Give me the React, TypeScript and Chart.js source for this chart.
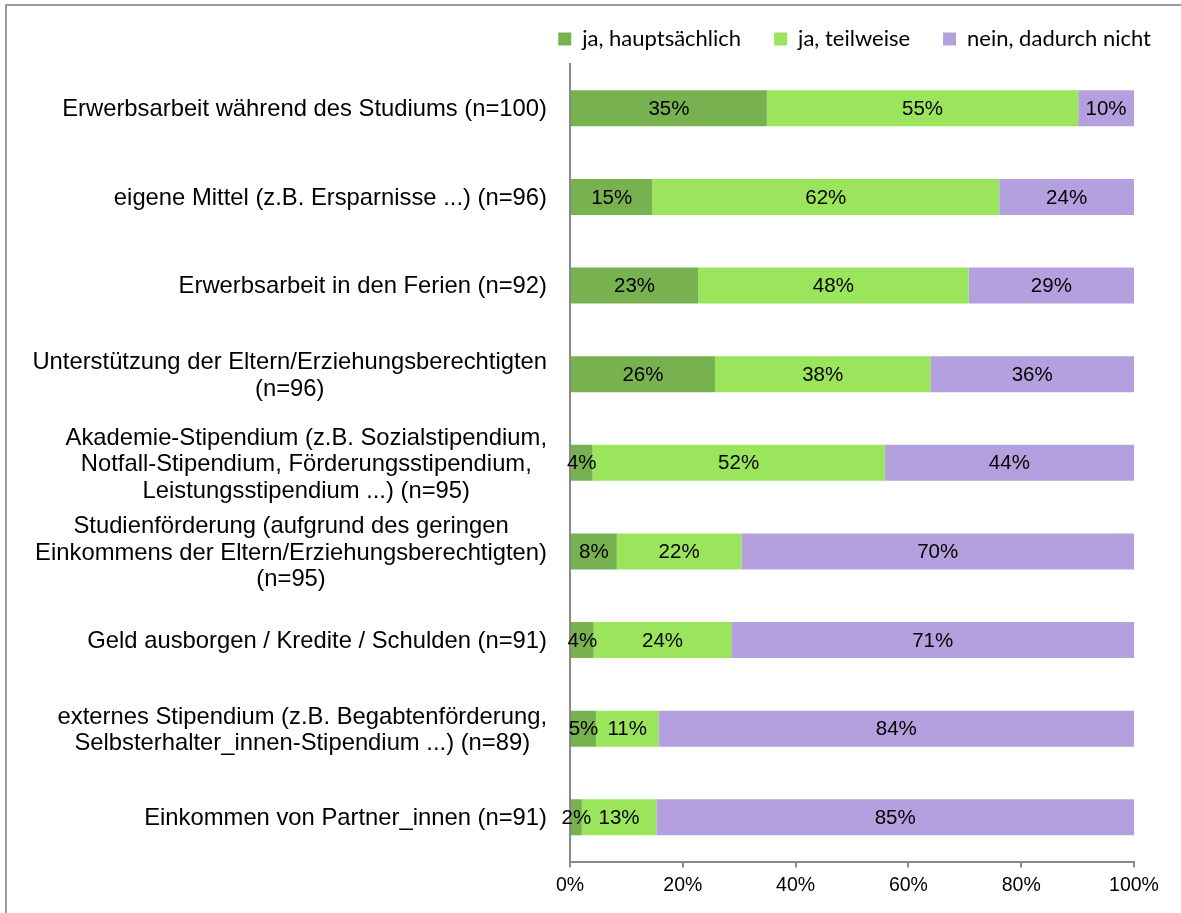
import React, { useEffect, useRef } from "react";
import { Chart, registerables } from "chart.js";

Chart.register(...registerables);

const categories: string[][] = [
  ["Erwerbsarbeit während des Studiums (n=100)"],
  ["eigene Mittel (z.B. Ersparnisse ...) (n=96)"],
  ["Erwerbsarbeit in den Ferien (n=92)"],
  ["Unterstützung der Eltern/Erziehungsberechtigten", "(n=96)"],
  ["Akademie-Stipendium (z.B. Sozialstipendium,", "Notfall-Stipendium, Förderungsstipendium,", "Leistungsstipendium ...) (n=95)"],
  ["Studienförderung (aufgrund des geringen", "Einkommens der Eltern/Erziehungsberechtigten)", "(n=95)"],
  ["Geld ausborgen / Kredite / Schulden (n=91)"],
  ["externes Stipendium (z.B. Begabtenförderung,", "Selbsterhalter_innen-Stipendium ...) (n=89)"],
  ["Einkommen von Partner_innen (n=91)"],
];

const seriesNames = ["ja, hauptsächlich", "ja, teilweise", "nein, dadurch nicht"];
const hauptsaechlich = [34.9, 14.6, 22.7, 25.7, 4.0, 8.3, 4.2, 4.6, 2.1];
const teilweise = [55.2, 61.5, 48.0, 38.2, 51.8, 22.1, 24.4, 11.1, 13.2];
const nicht = [9.9, 23.9, 29.3, 36.1, 44.2, 69.6, 71.4, 84.3, 84.7];
const seriesColors = ["#78B250", "#9BE55D", "#B4A0DE"];
const xTicks = [0, 20, 40, 60, 80, 100];

const ARIAL = "'Liberation Sans', Arial, sans-serif";
const LEGEND_PAD = 33;
const CANVAS_W = 1184;

const dataLabelPlugin = {
  id: "dataLabels",
  afterDatasetsDraw(chart: any) {
    const ctx = chart.ctx;
    ctx.save();
    ctx.font = `20.5px ${ARIAL}`;
    ctx.fillStyle = "#000";
    ctx.textAlign = "center";
    ctx.textBaseline = "middle";
    chart.data.datasets.forEach((ds: any, di: number) => {
      const meta = chart.getDatasetMeta(di);
      meta.data.forEach((bar: any, i: number) => {
        const v = ds.data[i];
        const { x, y, base } = bar.getProps(["x", "y", "base"], true);
        ctx.fillText(`${Math.round(v)}%`, (x + base) / 2, y + 1);
      });
    });
    ctx.restore();
  },
};

const categoryLabelPlugin = {
  id: "categoryLabels",
  afterDraw(chart: any) {
    const ctx = chart.ctx;
    const yScale = chart.scales.y;
    const right = chart.chartArea.left - 23;
    const lh = 26.5;
    ctx.save();
    ctx.font = `23.8px ${ARIAL}`;
    ctx.fillStyle = "#000";
    ctx.textAlign = "center";
    ctx.textBaseline = "middle";
    (chart.data.labels as string[][]).forEach((lines, i) => {
      const y = yScale.getPixelForValue(i);
      const widest = Math.max(...lines.map((l) => ctx.measureText(l).width));
      const cx = right - widest / 2;
      const off = lines.length > 1 ? 2 : 1;
      lines.forEach((line, j) => {
        ctx.fillText(line, cx, y + (j - (lines.length - 1) / 2) * lh + off);
      });
    });
    ctx.restore();
  },
};

export default function App() {
  const ref = useRef<HTMLCanvasElement>(null);

  useEffect(() => {
    if (!ref.current) return;
    const values = [hauptsaechlich, teilweise, nicht];
    const chart = new Chart(ref.current, {
      type: "bar",
      data: {
        labels: categories as any,
        datasets: seriesNames.map((name, k) => ({
          label: name,
          data: values[k],
          backgroundColor: seriesColors[k],
          borderWidth: 0,
          barPercentage: 0.406,
          categoryPercentage: 1,
        })),
      },
      options: {
        indexAxis: "y",
        animation: false,
        responsive: false,
        layout: { padding: { left: 8, right: 0, top: 15, bottom: 10 } },
        plugins: {
          legend: {
            position: "top",
            align: "end",
            labels: {
              font: { family: "Lato, 'Open Sans', sans-serif", size: 22 },
              color: "#000",
              boxWidth: 13,
              boxHeight: 13,
              padding: LEGEND_PAD,
            },
          },
          tooltip: { enabled: false },
        },
        scales: {
          x: {
            stacked: true,
            min: 0,
            max: 100,
            afterBuildTicks: (s: any) => {
              s.ticks = xTicks.map((v) => ({ value: v }));
            },
            ticks: {
              callback: (v: any) => `${v}%`,
              font: { family: ARIAL, size: 19.5 },
              color: "#000",
              padding: 6,
            },
            grid: {
              display: true,
              drawOnChartArea: false,
              drawTicks: true,
              tickLength: 6,
              color: "#898989",
              lineWidth: 2,
            },
            border: { display: true, color: "#898989", width: 2 },
          },
          y: {
            stacked: true,
            ticks: { display: false },
            grid: { display: false },
            border: { display: true, color: "#898989", width: 2 },
            afterFit: (s: any) => {
              s.width = 562;
            },
          },
          xTop: {
            type: "linear",
            axis: "x",
            position: "top",
            display: true,
            ticks: { display: false },
            grid: { display: false },
            border: { display: false },
            afterFit: (s: any) => {
              s.height = 4;
            },
          },
          yRight: {
            type: "linear",
            axis: "y",
            position: "right",
            display: true,
            ticks: { display: false },
            grid: { display: false },
            border: { display: false },
            afterFit: (s: any) => {
              s.width = CANVAS_W - 1134;
            },
          },
        } as any,
      },
      plugins: [dataLabelPlugin, categoryLabelPlugin],
    });
    return () => chart.destroy();
  }, []);

  return (
    <div
      style={{
        position: "fixed",
        left: 0,
        top: 0,
        width: 1181,
        height: 913,
        overflow: "hidden",
        background: "#fff",
      }}
    >
      <canvas
        ref={ref}
        width={CANVAS_W}
        height={933}
        style={{ position: "absolute", left: 0, top: -20, width: CANVAS_W, height: 933 }}
      />
      <div
        style={{
          position: "absolute",
          left: 5,
          top: 4,
          width: 1300,
          height: 1000,
          borderLeft: "2px solid #9a9a9a",
          borderTop: "2px solid #9a9a9a",
          pointerEvents: "none",
        }}
      />
    </div>
  );
}
